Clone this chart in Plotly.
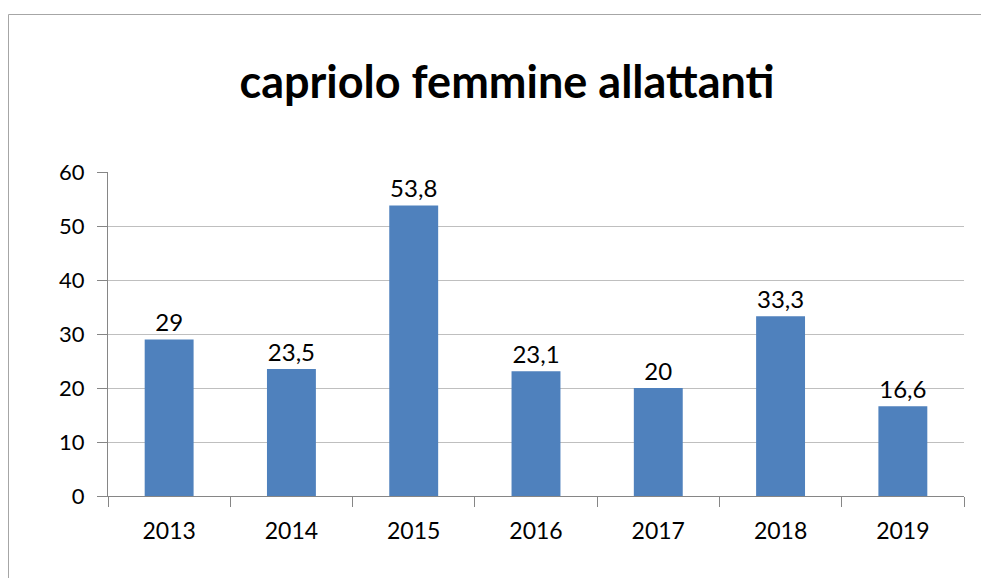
import plotly.graph_objects as go

years = ["2013", "2014", "2015", "2016", "2017", "2018", "2019"]
values = [29, 23.5, 53.8, 23.1, 20, 33.3, 16.6]
y_ticks = [0, 10, 20, 30, 40, 50, 60]

FONT = "Lato, Carlito, Calibri, sans-serif"
W, H = 981, 570
L, R, T, B = 100, 25, 164, 82
PW, PH = W - L - R, H - T - B

fig = go.Figure(go.Bar(
    x=years, y=values,
    marker=dict(color="#4F81BD", line=dict(width=0)),
    width=0.4,
    text=values, texttemplate="%{y}", textposition="outside",
    textfont=dict(size=24, color="#000000", family=FONT),
    cliponaxis=False,
))

fig.update_layout(
    width=W, height=H,
    margin=dict(l=L, r=R, t=T, b=B),
    paper_bgcolor="white", plot_bgcolor="white",
    separators=",.",
    showlegend=False,
    title=dict(text="<b>capriolo femmine allattanti</b>", x=499 / W, xref="container",
               y=1 - 74 / H, yref="container", xanchor="center", yanchor="middle",
               font=dict(size=45, color="#000000", family=FONT)),
    font=dict(family=FONT, color="#000000"),
)
fig.update_xaxes(
    type="category", tickson="boundaries", ticks="outside", ticklen=10,
    tickcolor="#868686", showline=True, linecolor="#868686", linewidth=1,
    tickfont=dict(size=23, family=FONT, color="#000000"), showgrid=False,
    ticklabelstandoff=14,
)
fig.update_yaxes(
    range=[0, 60], tickvals=y_ticks, ticks="outside", ticklen=10,
    tickcolor="#868686", showline=True, linecolor="#868686", linewidth=1,
    gridcolor="#BFBFBF", gridwidth=1, zeroline=False,
    tickfont=dict(size=22, family=FONT, color="#000000"),
    ticklabelstandoff=8,
)
fig.add_shape(type="rect", xref="paper", yref="paper",
              x0=(0.5 - L) / PW, x1=(980.5 - L) / PW, y0=-0.5, y1=(PH + T - 6.5) / PH,
              line=dict(color="#A6A6A6", width=1), fillcolor="rgba(0,0,0,0)", layer="below")

fig.write_html("out.html")
